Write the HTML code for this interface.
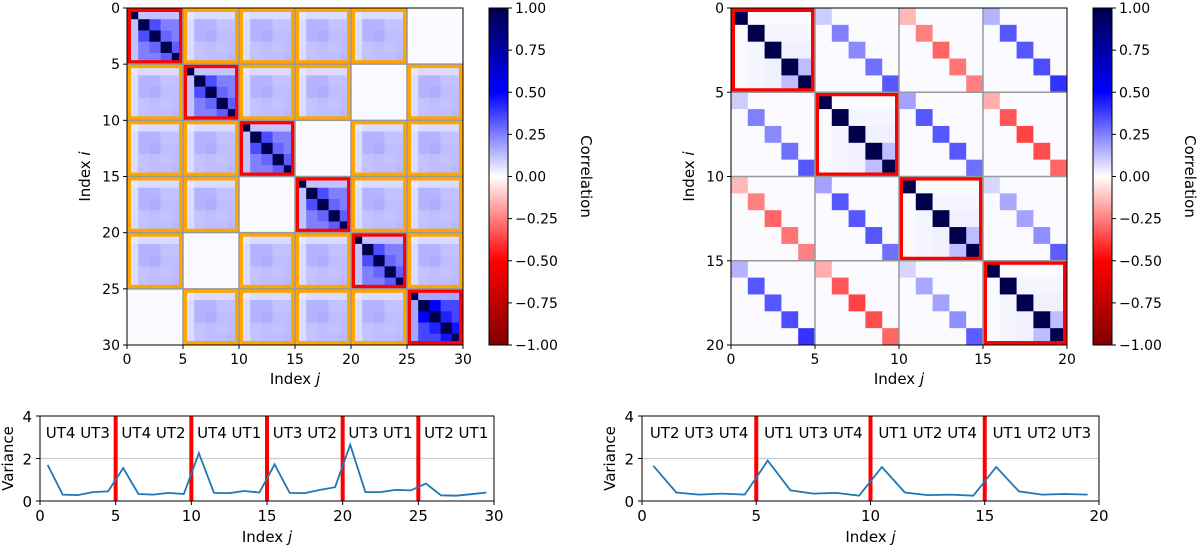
<!DOCTYPE html>
<html><head><meta charset="utf-8"><style>
body{margin:0;background:#fff;}
svg{display:block;font-family:"DejaVu Sans","Liberation Sans",sans-serif;}
text{fill:#000;}
</style></head><body>
<svg id="fig" width="1200" height="551" viewBox="0 0 1200 551" xmlns="http://www.w3.org/2000/svg">
<defs>
<linearGradient id="cmap" x1="0" y1="0" x2="0" y2="1">
<stop offset="0" stop-color="#00004d"/><stop offset="0.25" stop-color="#0000ff"/><stop offset="0.5" stop-color="#ffffff"/><stop offset="0.75" stop-color="#ff0000"/><stop offset="1" stop-color="#800000"/>
</linearGradient>
</defs>
</svg>
<script>
// ---- data ----
const leftBlockScale=[
[1,1,1,1,1,0],
[1,1,1,1,0,1],
[1,1,1,0,1,1],
[1,1,0,1,1,1],
[1,1,1,1,1,1],
[0,1,1,1,1,1.45]];
const leftDiagPattern=[
[1,0.12,0.12,0.12,0.12],
[0.12,1,0.35,0.25,0.25],
[0.12,0.35,1,0.3,0.25],
[0.12,0.25,0.3,1,0.32],
[0.12,0.25,0.25,0.32,1]];
const leftOffPattern=[
[0.05,0.07,0.07,0.07,0.07],
[0.07,0.15,0.15,0.12,0.12],
[0.07,0.15,0.16,0.13,0.13],
[0.07,0.12,0.13,0.12,0.13],
[0.07,0.12,0.13,0.13,0.14]];
const leftShared=[
[0,1,1,1,1,0],[1,0,1,1,0,1],[1,1,0,0,1,1],[1,1,0,0,1,1],[1,0,1,1,0,1],[0,1,1,1,1,0]];
const rightOffDiag={
"0,1":[0.1,0.25,0.23,0.28,0.33],
"0,2":[-0.14,-0.25,-0.3,-0.27,-0.25],
"0,3":[0.15,0.33,0.33,0.35,0.4],
"1,2":[0.18,0.33,0.33,0.33,0.28],
"1,3":[-0.16,-0.33,-0.37,-0.35,-0.3],
"2,3":[0.08,0.17,0.18,0.22,0.32]};
const rightDiagOff=[0.01,0.02,0.03,0.13];
const varLeft=[1.7,0.3,0.28,0.42,0.45,1.55,0.33,0.3,0.38,0.33,2.25,0.38,0.37,0.47,0.4,1.72,0.38,0.37,0.52,0.65,2.65,0.42,0.42,0.52,0.5,0.82,0.27,0.25,0.32,0.4];
const varRight=[1.65,0.4,0.3,0.35,0.3,1.9,0.5,0.35,0.38,0.25,1.6,0.4,0.28,0.3,0.25,1.6,0.45,0.3,0.33,0.3];
const labelsLeft=["UT4 UT3","UT4 UT2","UT4 UT1","UT3 UT2","UT3 UT1","UT2 UT1"];
const labelsRight=["UT2 UT3 UT4","UT1 UT3 UT4","UT1 UT2 UT4","UT1 UT2 UT3"];
const cbTicks=[1,0.75,0.5,0.25,0,-0.25,-0.5,-0.75,-1];
const varTicks=[0,2,4];

const NS="http://www.w3.org/2000/svg";
const svg=document.getElementById('fig');
function mk(tag,attrs,parent){const e=document.createElementNS(NS,tag);for(const k in attrs)e.setAttribute(k,attrs[k]);(parent||svg).appendChild(e);return e;}
function txt(x,y,s,attrs,parent){const e=mk('text',Object.assign({x:x,y:y,'font-size':14},attrs||{}),parent);e.textContent=s;return e;}
function cmap(v){
  const stops=[[1,[0,0,77]],[0.5,[0,0,255]],[0,[255,255,255]],[-0.5,[255,0,0]],[-1,[128,0,0]]];
  v=Math.max(-1,Math.min(1,v));
  for(let i=0;i<4;i++){const a=stops[i],b=stops[i+1];if(v<=a[0]&&v>=b[0]){const t=(a[0]-v)/(a[0]-b[0]);return 'rgb('+a[1].map((c,k)=>Math.round(c+(b[1][k]-c)*t)).join(',')+')';}}
}
function leftVal(i,j){const bi=Math.floor(i/5),bj=Math.floor(j/5),a=i%5,b=j%5;
  if(bi===bj){let v=leftDiagPattern[a][b];if(a!==b)v*=leftBlockScale[bi][bj];return v;}
  return leftShared[bi][bj]?leftOffPattern[a][b]:0.01;}
function rightVal(i,j){const bi=Math.floor(i/5),bj=Math.floor(j/5),a=i%5,b=j%5;
  if(bi===bj){if(a===b)return 1;return (Math.max(a,b)===4&&Math.min(a,b)===3)?rightDiagOff[3]:rightDiagOff[Math.min(a,b)%3];}
  const key=Math.min(bi,bj)+','+Math.max(bi,bj);
  if(a===b)return rightOffDiag[key][a];
  return 0.01;}

function heatmap(cfg){
  const g=mk('g',{});
  
  
  const n=cfg.n, cw=(cfg.x1-cfg.x0)/n, ch=(cfg.y1-cfg.y0)/n;
  const xs=i=>cfg.x0+i*cw, ys=i=>cfg.y0+i*ch;
  for(let i=0;i<n;i++)for(let j=0;j<n;j++){
    const r=mk('rect',{x:xs(j),y:ys(i),width:cw+0.4,height:ch+0.4,fill:cmap(cfg.val(i,j))},g);
    
    
  }
  const nb=n/5;
  for(let bi=0;bi<nb;bi++)for(let bj=0;bj<nb;bj++){
    const x=xs(bj*5),y=ys(bi*5),w=cw*5,h=ch*5;
    if(bi===bj){const r=mk('rect',{x:x+2,y:y+2,width:w-4,height:h-4,fill:'none',stroke:'#ff0000','stroke-width':4},g);
      }
    else if(cfg.orange&&cfg.orange[bi][bj]){const r=mk('rect',{x:x+2,y:y+2,width:w-4,height:h-4,fill:'none',stroke:'#ffa500','stroke-width':4},g);
      }
  }
  for(let k=1;k<nb;k++){
    mk('line',{x1:xs(k*5),x2:xs(k*5),y1:cfg.y0,y2:cfg.y1,stroke:'#999','stroke-width':1.5},g);
    mk('line',{y1:ys(k*5),y2:ys(k*5),x1:cfg.x0,x2:cfg.x1,stroke:'#999','stroke-width':1.5},g);
  }
  mk('rect',{x:cfg.x0,y:cfg.y0,width:cfg.x1-cfg.x0,height:cfg.y1-cfg.y0,fill:'none',stroke:'#000','stroke-width':1},g);
  for(let k=0;k<=n;k+=5){
    mk('line',{x1:xs(k),x2:xs(k),y1:cfg.y1,y2:cfg.y1+4,stroke:'#000'},g);
    txt(xs(k),cfg.y1+19,String(k),{'text-anchor':'middle'},g);
    mk('line',{x1:cfg.x0-4,x2:cfg.x0,y1:ys(k),y2:ys(k),stroke:'#000'},g);
    txt(cfg.x0-7,ys(k)+5,String(k),{'text-anchor':'end'},g);
  }
  const xl=txt((cfg.x0+cfg.x1)/2,cfg.y1+39,'Index ',{'text-anchor':'middle','font-size':15},g);
  
  const it=mk('tspan',{'font-style':'italic'},xl);it.textContent='j';
  const cy=(cfg.y0+cfg.y1)/2, lx=cfg.x0-37;
  const yl=txt(lx,cy,'Index ',{'text-anchor':'middle','font-size':15,transform:'rotate(-90 '+lx+' '+cy+')'},g);
  
  const it2=mk('tspan',{'font-style':'italic'},yl);it2.textContent='i';
  const cb=mk('rect',{x:cfg.cbx,y:cfg.y0,width:19,height:cfg.y1-cfg.y0,fill:'url(#cmap)',stroke:'#000','stroke-width':1});
  
  cbTicks.forEach(t=>{const y=cfg.y0+(1-t)/2*(cfg.y1-cfg.y0);
    mk('line',{x1:cfg.cbx+19,x2:cfg.cbx+23,y1:y,y2:y,stroke:'#000'});
    txt(cfg.cbx+26,y+5,(t<0?'\u2212':'')+Math.abs(t).toFixed(2));});
  const clx=cfg.cbx+92;
  const cl=txt(clx,cy,'Correlation',{'text-anchor':'middle','font-size':15,transform:'rotate(90 '+clx+' '+cy+')'});
  
}
heatmap({name:'left-correlation-heatmap',n:30,x0:127,x1:463,y0:8,y1:345,val:leftVal,orange:leftShared,cbx:489});
heatmap({name:'right-correlation-heatmap',n:20,x0:731,x1:1067,y0:8,y1:345,val:rightVal,orange:null,cbx:1093});

function varPlot(cfg){
  const g=mk('g',{});
  
  
  const n=cfg.vals.length, y0=416,y1=501;
  const xs=v=>cfg.x0+v/n*(cfg.x1-cfg.x0), ys=v=>y1-v/4*(y1-y0);
  mk('line',{x1:cfg.x0,x2:cfg.x1,y1:ys(2),y2:ys(2),stroke:'#cccccc','stroke-width':1.2},g);
  for(let k=5;k<n;k+=5){const l=mk('line',{x1:xs(k),x2:xs(k),y1:y0,y2:y1,stroke:'#ff0000','stroke-width':4},g);
    }
  cfg.labels.forEach((s,k)=>{txt(xs(k*5+2.5),y0+22,s,{'text-anchor':'middle','font-size':15},g);});
  const pts=cfg.vals.map((v,i)=>xs(i+0.5).toFixed(1)+','+ys(v).toFixed(1)).join(' ');
  const pl=mk('polyline',{points:pts,fill:'none',stroke:'#1f77b4','stroke-width':1.8},g);
  
  mk('rect',{x:cfg.x0,y:y0,width:cfg.x1-cfg.x0,height:y1-y0,fill:'none',stroke:'#000','stroke-width':1},g);
  for(let k=0;k<=n;k+=5){mk('line',{x1:xs(k),x2:xs(k),y1:y1,y2:y1+4,stroke:'#000'},g);
    txt(xs(k),y1+20,String(k),{'text-anchor':'middle','font-size':15},g);}
  varTicks.forEach(t=>{mk('line',{x1:cfg.x0-4,x2:cfg.x0,y1:ys(t),y2:ys(t),stroke:'#000'},g);
    txt(cfg.x0-8,ys(t)+6,String(t),{'text-anchor':'end','font-size':15},g);});
  const xl=txt((cfg.x0+cfg.x1)/2,y1+41,'Index ',{'text-anchor':'middle','font-size':15},g);
  
  const it=mk('tspan',{'font-style':'italic'},xl);it.textContent='j';
  const lx=cfg.x0-27, cy=(y0+y1)/2;
  const yl=txt(lx,cy,'Variance',{'text-anchor':'middle','font-size':15,transform:'rotate(-90 '+lx+' '+cy+')'},g);
  
}
varPlot({name:'left-variance-plot',vals:varLeft,labels:labelsLeft,x0:40,x1:494});
varPlot({name:'right-variance-plot',vals:varRight,labels:labelsRight,x0:642,x1:1099});
</script>
</body></html>
